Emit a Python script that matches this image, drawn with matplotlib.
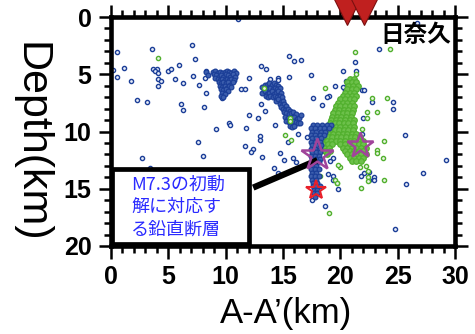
import matplotlib
matplotlib.use("Agg")
import matplotlib.pyplot as plt
from matplotlib.patches import Rectangle

plt.rcParams['font.family'] = ['Liberation Sans', 'Noto Sans CJK JP', 'DejaVu Sans']

# -----------------------------
# DATA  (x = distance along A-A' [km], d = depth [km])
# -----------------------------
# scattered blue hypocentres
blue_x = [0.52, 3.6, 7.1, 7.3, 1.16, 0.52, 1.7, 3.7, 4.0, 3.85, 4.1, 4.07, 4.36, 4.1, 5.0, 5.26,
          5.9, 5.55, 6.3, 7.15, 7.7, 8.3, 8.2, 8.3, 0.17, 2.24, 3.14, 6.1, 6.25, 8.1, 9.7, 9.7,
          10.3, 10.4, 9.15, 7.6, 8.0, 2.7, 3.4, 11.1, 26.7, 23.4, 21.3, 20.2, 21.4, 15.5, 16.0,
          16.6, 17.4, 13.05, 13.5, 12.0, 13.9, 14.6, 14.6, 15.5, 11.3, 11.7, 19.5, 20.4, 19.0,
          20.5, 20.9, 21.4, 21.4, 20.4, 20.6, 21.9, 22.1, 12.0, 12.8, 11.8, 13.4, 13.1, 14.3,
          13.0, 13.0, 11.7, 12.4, 13.2, 14.7, 15.1, 15.9, 16.3, 17.05, 14.2, 14.6, 16.0, 15.4,
          16.1, 17.6, 18.8, 18.4, 20.2, 22.8, 24.6, 24.6, 22.0, 21.3, 21.9, 25.6, 29.2, 27.2,
          22.1, 17.5, 18.65, 19.8, 19.4, 19.4, 21.8, 22.5, 22.9, 22.5, 22.9, 25.7, 24.8, 19.4,
          19.1, 18.9, 10.6, 11.0, 12.2]
blue_d = [3.06, 2.8, 2.45, 3.7, 4.45, 5.2, 5.55, 4.5, 4.5, 4.75, 4.9, 5.4, 5.6, 6.0, 4.7, 4.57,
          4.17, 5.4, 5.8, 5.15, 5.9, 4.75, 5.3, 6.6, 4.6, 7.25, 7.4, 7.6, 8.1, 7.9, 6.96, 7.1,
          9.3, 9.4, 9.75, 10.9, 12.1, 12.3, 13.2, 0.15, 0.5, 2.77, 3.93, 4.75, 4.75, 3.4, 3.85,
          3.73, 5.1, 4.28, 4.57, 5.3, 5.4, 5.3, 5.5, 5.25, 6.26, 6.26, 6.05, 6.26, 6.9,
          5.6, 5.5, 5.9, 6.26, 6.4, 5.96, 6.4, 6.4, 8.56, 8.8, 9.7, 8.2, 7.6, 9.43,
          10.4, 10.7, 11.3, 11.5, 12.25, 11.9, 12.5, 12.3, 10.25, 10.5, 13.2, 13.65, 9.5, 10.9,
          12.7, 7.1, 6.96, 7.7, 6.1, 7.45, 7.45, 8.0, 8.8, 10.2, 10.2, 10.3, 12.5, 13.6,
          13.6, 16.0, 16.5, 15.05, 13.9, 14.2, 13.86, 13.5, 13.95, 14.2, 14.2, 14.6, 18.5, 12.3,
          12.6, 13.7, 18.4, 13.7, 11.8]

# blue cluster around x = 9-11 km
clusterA_x = [8.3, 8.5, 8.9, 9.1, 9.3, 9.5, 9.7, 9.9, 10.1, 10.3, 10.5, 10.7, 10.9, 9.0, 9.2, 9.4,
              9.6, 9.8, 10.0, 10.2, 10.4, 10.6, 10.8, 9.1, 9.3, 9.5, 9.7, 9.9, 10.1, 10.3, 10.5,
              10.7, 9.4, 9.6, 9.8, 10.0, 10.2, 10.4, 10.6, 9.5, 9.7, 9.9, 10.1, 10.3, 10.5, 9.6,
              9.8, 10.0, 10.2, 9.7, 9.9, 9.6, 9.8]
clusterA_d = [4.8, 5.1, 4.8, 4.7, 4.9, 4.8, 4.9, 4.8, 4.7, 4.8, 4.9, 4.7, 4.9, 5.0, 5.1, 5.2,
              5.1, 5.2, 5.0, 5.1, 5.2, 5.0, 5.2, 5.3, 5.4, 5.5, 5.4, 5.5, 5.4, 5.5, 5.4,
              5.5, 5.7, 5.8, 5.7, 5.8, 5.7, 5.9, 5.7, 6.0, 6.1, 6.0, 6.2, 6.0, 6.1, 6.3,
              6.4, 6.3, 6.5, 6.6, 6.7, 6.9, 7.0]

# blue cluster around x = 13-16.5 km
clusterB_x = [13.2, 13.4, 13.6, 13.8, 14.0, 14.2, 14.4, 14.6, 13.3, 13.5, 13.7, 13.9, 14.1, 14.3,
              14.5, 14.7, 13.2, 13.4, 13.6, 13.8, 14.0, 14.2, 14.4, 14.6, 14.8, 13.5, 13.7, 13.9,
              14.1, 14.3, 14.5, 14.7, 14.9, 14.4, 14.6, 14.8, 15.0, 14.7, 14.9, 15.1, 15.3, 14.8,
              15.0, 15.2, 15.4, 15.6, 15.1, 15.3, 15.5, 15.7, 15.9, 16.1, 15.2, 15.4, 15.6, 15.8,
              16.0, 16.2, 16.4, 15.3, 15.5, 15.7, 15.9, 16.1, 16.3, 15.6, 15.8, 16.0, 16.5, 16.6]
clusterB_d = [6.1, 5.9, 5.9, 5.8, 5.9, 5.8, 5.9, 6.0, 6.3, 6.2, 6.3, 6.2, 6.3, 6.2,
              6.3, 6.2, 6.6, 6.5, 6.7, 6.6, 6.5, 6.7, 6.6, 6.5, 6.6, 6.9, 7.0, 6.9,
              7.0, 6.9, 7.0, 6.9, 7.0, 7.3, 7.2, 7.4, 7.3, 7.6, 7.7, 7.6, 7.8, 7.9,
              8.0, 8.1, 8.0, 8.2, 8.3, 8.4, 8.5, 8.4, 8.3, 8.5, 8.7, 8.8, 8.9, 8.8,
              8.7, 8.9, 8.8, 9.1, 9.2, 9.3, 9.1, 9.2, 9.3, 9.5, 9.6, 9.5, 9.3, 8.6]

# blue vertical column (M7.3 fault plane)
column_x = [17.6, 18.0, 18.4, 18.8, 19.2, 17.4, 17.8, 18.2, 18.6, 19.0, 17.5, 17.9, 18.3, 18.7,
            17.4, 17.8, 18.2, 18.6, 17.5, 17.9, 18.3, 17.4, 17.8, 18.2, 17.5, 17.9, 18.3,
            17.4, 17.8, 18.2, 17.5, 17.9, 18.2, 17.4, 17.8, 18.1, 17.5, 17.9, 18.2, 17.4,
            17.8, 18.1, 17.5, 17.9, 17.4, 17.8, 18.1, 17.5, 17.9, 17.4, 17.8, 18.1, 17.5,
            17.9, 17.6, 18.0, 17.6, 17.9, 18.2, 17.7, 18.0, 17.7, 18.0, 17.8]
column_d = [9.4, 9.4, 9.4, 9.4, 9.4, 9.7, 9.7, 9.7, 9.7, 9.7, 10.0, 10.0, 10.0, 10.0,
            10.3, 10.3, 10.3, 10.3, 10.6, 10.6, 10.6, 10.9, 10.9, 10.9, 11.2, 11.2, 11.2,
            11.5, 11.5, 11.5, 11.8, 11.8, 11.8, 12.1, 12.1, 12.1, 12.4, 12.4, 12.4, 12.7,
            12.7, 12.7, 13.0, 13.0, 13.3, 13.3, 13.3, 13.6, 13.6, 13.9, 13.9, 13.9, 14.2,
            14.2, 14.5, 14.5, 14.8, 14.8, 14.8, 15.1, 15.1, 15.4, 15.4, 15.7]

# dense green swarm
swarm_x = [20.8, 21.2, 20.6, 21.0, 21.4, 20.7, 21.1, 21.5, 20.6, 21.0, 21.4, 20.4, 20.8, 21.2,
           20.2, 20.6, 21.0, 21.4, 20.0, 20.4, 20.8, 21.2, 19.8, 20.2, 20.6, 21.0,
           19.6, 20.0, 20.4, 20.8, 21.2, 19.5, 19.9, 20.3, 20.7, 21.1, 19.4, 19.8, 20.2, 20.6,
           21.0, 19.3, 19.7, 20.1, 20.5, 20.9, 19.2, 19.6, 20.0, 20.4, 20.8, 21.2,
           19.1, 19.5, 19.9, 20.3, 20.7, 21.1, 18.8, 19.2, 19.6, 20.0, 20.4, 20.8, 21.2,
           18.7, 19.1, 19.5, 19.9, 20.3, 20.7, 21.1, 18.6, 19.0, 19.4, 19.8, 20.2, 20.6, 21.0,
           21.4, 18.5, 18.9, 19.3, 19.7, 20.1, 20.5, 20.9, 21.3, 21.7, 18.4, 18.8, 19.2, 19.6,
           20.0, 20.4, 20.8, 21.2, 21.6, 22.0, 18.5, 18.9, 19.3, 20.0, 20.4, 20.8, 21.2, 21.6,
           22.0, 18.6, 19.0, 20.2, 20.6, 21.0, 21.4, 21.8, 22.2, 18.7, 19.1, 20.4, 20.8, 21.2,
           21.6, 22.0, 18.8, 20.6, 21.0, 21.4, 21.8, 22.2, 20.8, 21.2, 21.6, 22.0, 21.0, 21.4,
           21.8]
swarm_d = [5.4, 5.4, 5.7, 5.7, 5.7, 6.0, 6.0, 6.0, 6.3, 6.3, 6.3, 6.6, 6.6, 6.6,
           6.9, 6.9, 6.9, 6.9, 7.2, 7.2, 7.2, 7.2, 7.5, 7.5, 7.5, 7.5,
           7.8, 7.8, 7.8, 7.8, 7.8, 8.1, 8.1, 8.1, 8.1, 8.1, 8.4, 8.4, 8.4, 8.4,
           8.4, 8.7, 8.7, 8.7, 8.7, 8.7, 9.0, 9.0, 9.0, 9.0, 9.0, 9.0,
           9.3, 9.3, 9.3, 9.3, 9.3, 9.3, 9.6, 9.6, 9.6, 9.6, 9.6, 9.6, 9.6,
           9.9, 9.9, 9.9, 9.9, 9.9, 9.9, 9.9, 10.2, 10.2, 10.2, 10.2, 10.2, 10.2, 10.2,
           10.2, 10.5, 10.5, 10.5, 10.5, 10.5, 10.5, 10.5, 10.5, 10.5, 10.8, 10.8, 10.8, 10.8,
           10.8, 10.8, 10.8, 10.8, 10.8, 10.8, 11.1, 11.1, 11.1, 11.1, 11.1, 11.1, 11.1, 11.1,
           11.1, 11.4, 11.4, 11.4, 11.4, 11.4, 11.4, 11.4, 11.4, 11.7, 11.7, 11.7, 11.7, 11.7,
           11.7, 11.7, 12.0, 12.0, 12.0, 12.0, 12.0, 12.0, 12.3, 12.3, 12.3, 12.3, 12.6, 12.6,
           12.6]

# scattered green hypocentres
green_x = [18.7, 22.8, 24.1, 22.3, 21.9, 23.8, 23.2, 23.2, 23.7, 21.4, 21.7, 22.2, 22.4, 22.4,
           22.4, 23.8, 21.8, 19.7, 19.0, 20.0, 21.3, 24.3, 4.1, 13.3, 15.6, 15.6, 15.2, 15.7,
           21.4, 19.8, 19.5, 19.7, 22.3, 23.2, 18.2]
green_d = [6.2, 7.1, 7.1, 8.3, 9.8, 10.8, 11.6, 11.85, 12.3, 12.6, 13.1, 13.0, 13.45, 13.95,
           14.3, 14.2, 14.9, 14.5, 17.1, 13.1, 3.08, 2.77, 3.6, 6.2, 8.85, 9.1, 10.3, 10.7,
           5.0, 12.9, 14.2, 14.5, 8.85, 8.3, 13.9]

# mainshock / foreshock stars
purple_star_x = [18.0, 21.7]
purple_star_d = [12.05, 11.2]
purple_star_size = [24, 19]
red_star_x = [17.9]
red_star_d = [15.1]

# stations / surface trace
tri_x = [20.6, 22.1]
tri_d = [-0.5, -0.5]

# pointer line from the text box to the fault
pointer_x = [12.4, 18.0]
pointer_d = [14.9, 12.5]

xticks = [0, 5, 10, 15, 20, 25, 30]
yticks = [0, 5, 10, 15, 20]

blue_c = "#1c3f98"
green_c = "#52b02e"

# -----------------------------
# PLOT
# -----------------------------
fig = plt.figure(figsize=(4.75, 3.34), dpi=100)
ax = fig.add_axes([0.2337, 0.2635, 0.9579 - 0.2337, 0.949 - 0.2635])

# single events: small open circles
ax.plot(blue_x, blue_d, 'o', ms=3.0, mfc='#e6ecf8', mec=blue_c, mew=1.0, ls='none', zorder=2)
ax.plot(green_x, green_d, 'o', ms=3.0, mfc='#e8f5e2', mec=green_c, mew=1.0, ls='none', zorder=3)
# dense swarms: overlapping circles appear solid
ax.plot(clusterA_x, clusterA_d, 'o', ms=3.4, mfc='#3d5fae', mec=blue_c, mew=0.9, ls='none', zorder=2)
ax.plot(clusterB_x, clusterB_d, 'o', ms=3.4, mfc='#3d5fae', mec=blue_c, mew=0.9, ls='none', zorder=2)
ax.plot(swarm_x, swarm_d, 'o', ms=4.0, mfc='#6cc04a', mec=green_c, mew=0.9, ls='none', zorder=3)
ax.plot(column_x, column_d, 'o', ms=3.4, mfc='#3d5fae', mec=blue_c, mew=0.9, ls='none', zorder=4)

for x, d, s in zip(purple_star_x, purple_star_d, purple_star_size):
    ax.plot(x, d, '*', ms=s, mfc='none', mec='#a0449a', mew=1.8, zorder=6)
ax.plot(red_star_x, red_star_d, '*', ms=15, mfc='none', mec='#e8202a', mew=1.5, zorder=6)

ax.plot(tri_x, tri_d, 'v', ms=20, mfc='#c0201f', mec='#7a1010', mew=0.8,
        ls='none', clip_on=False, zorder=7)

# text box + pointer
ax.add_patch(Rectangle((0.05, 13.3), 11.95, 6.5, facecolor='white', edgecolor='black',
                       lw=3.4, zorder=5, clip_on=False))
ax.plot(pointer_x, pointer_d, color='black', lw=4.5, solid_capstyle='butt', zorder=5)
ax.text(1.75, 16.6, "M7.3の初動\n解に対応す\nる鉛直断層", color='#2a2aff', fontsize=13,
        family=['Noto Sans CJK JP'], va='center', ha='left', linespacing=1.3, zorder=6)
ax.text(29.7, 1.6, "日奈久", fontsize=17, fontweight='bold', family=['Noto Sans CJK JP'],
        ha='right', va='center', zorder=6)

ax.set_xlim(0, 30)
ax.set_ylim(20, 0)
ax.set_xticks(xticks)
ax.set_yticks(yticks)
ax.set_xticks(range(0, 31), minor=True)
ax.set_yticks(range(0, 21), minor=True)
ax.tick_params(which='both', direction='out', top=True, right=True, width=1.8)
ax.tick_params(which='major', length=9, pad=5, labelsize=18)
ax.tick_params(which='minor', length=5)
for lab in ax.get_xticklabels() + ax.get_yticklabels():
    lab.set_fontweight('bold')
for sp in ax.spines.values():
    sp.set_linewidth(3.3)

ax.set_xlabel("A-A’(km)", fontsize=25, va='center')
ax.xaxis.set_label_coords(0.509, -0.293)
ax.set_ylabel("Depth(km)", fontsize=31, rotation=270, va='center', ha='center')
ax.yaxis.set_label_coords(-0.235, 0.454)

fig.savefig("out.png", dpi=100)
